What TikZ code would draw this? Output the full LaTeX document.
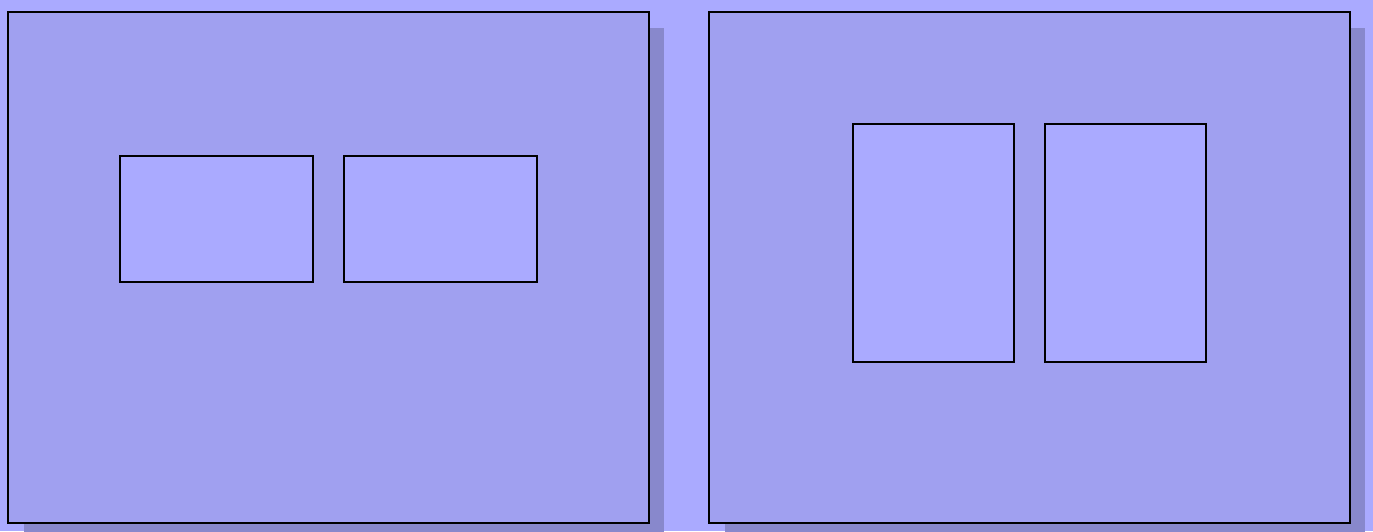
\documentclass[tikz,border=0pt]{standalone}
\usetikzlibrary{positioning}
\definecolor{cfond}{RGB}{170,170,255}
\definecolor{cpage}{RGB}{160,160,240}
\definecolor{combre}{RGB}{136,136,204}
\definecolor{cbloc}{RGB}{170,170,255}

\tikzset{
  page/.style={draw=black, fill=cpage, line width=1.5pt},
  ombre/.style={fill=combre, draw=none},
  bloc/.style={draw=black, fill=cbloc, line width=1.5pt}
}

\begin{document}
\begin{tikzpicture}[x=0.02cm, y=-0.02cm]
  \fill[cfond] (0,0) rectangle (1373,531);
  \useasboundingbox (0,0) rectangle (1373,531);

  % disposition horizontale
  \fill[ombre] (24,28) rectangle (664,540);
  \draw[page] (8,12) rectangle (649,523);
  \draw[bloc] (120,156) rectangle (313,282);
  \draw[bloc] (344,156) rectangle (537,282);

  % disposition verticale
  \fill[ombre] (725,28) rectangle (1365,540);
  \draw[page] (709,12) rectangle (1350,523);
  \draw[bloc] (853,124) rectangle (1014,362);
  \draw[bloc] (1045,124) rectangle (1206,362);
\end{tikzpicture}
\end{document}
